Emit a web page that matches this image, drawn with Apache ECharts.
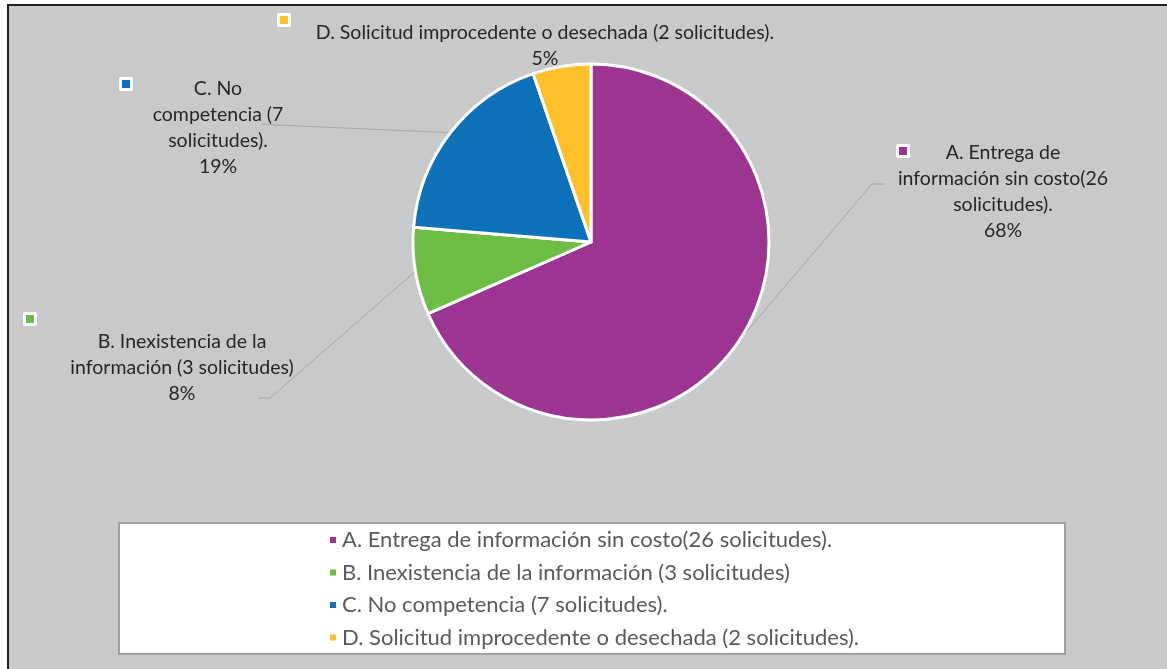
<!DOCTYPE html>
<html>
<head>
<meta charset="utf-8">
<script src="https://cdn.jsdelivr.net/npm/echarts@6/dist/echarts.min.js"></script>
<style>
html, body { margin: 0; padding: 0; background: #ffffff; }
#chart { width: 1167px; height: 669px; }
</style>
</head>
<body>
<div id="chart"></div>
<script>
const categories = [
  'A. Entrega de información sin costo(26 solicitudes).',
  'B. Inexistencia de la información (3 solicitudes)',
  'C. No competencia (7 solicitudes).',
  'D. Solicitud improcedente o desechada (2 solicitudes).'
];
const counts = [26, 3, 7, 2];
const percentLabels = ['68%', '8%', '19%', '5%'];
const labelTexts = [
  'A. Entrega de\ninformación sin costo(26\nsolicitudes).',
  'B. Inexistencia de la\ninformación (3 solicitudes)',
  'C. No\ncompetencia (7\nsolicitudes).',
  'D. Solicitud improcedente o desechada (2 solicitudes).'
];
const colors = ['#9c3591', '#6dbd45', '#0c71b9', '#fdbf2a'];

// where Excel put each data label, its legend key and the elbow of its leader line
const labelSpots = [
  { x: 1003, y: 140, key: [903, 151], line: [[872, 184], [885, 184]] },
  { x: 182, y: 329, key: [30, 319], line: [[270, 398], [258, 398]] },
  { x: 218, y: 76, key: [126, 84], line: [[276, 125], [262, 124]] },
  { x: 545, y: 20, key: [284, 20], line: null }
];
const fontFamily = 'Lato, "Open Sans", sans-serif';

const chart = echarts.init(document.getElementById('chart'), null, { renderer: 'canvas' });

const keyGraphics = labelSpots.flatMap((spot, i) => [
  {
    type: 'rect',
    shape: { x: spot.key[0] - 7, y: spot.key[1] - 7, width: 14, height: 14, r: 2 },
    style: { fill: '#ffffff' },
    z: 10
  },
  {
    type: 'rect',
    shape: { x: spot.key[0] - 4, y: spot.key[1] - 4, width: 8, height: 8 },
    style: { fill: colors[i] },
    z: 11
  }
]);

chart.setOption({
  animation: false,
  color: colors,
  graphic: [
    {
      type: 'rect',
      shape: { x: 8, y: 5, width: 1170, height: 680 },
      style: { fill: '#c8c9cb', stroke: '#1e1e1e', lineWidth: 2 },
      z: -10
    },
    {
      type: 'rect',
      shape: { x: 119, y: 523, width: 946, height: 131 },
      style: { fill: '#ffffff', stroke: '#a0a0a2', lineWidth: 2 },
      z: -5
    },
    ...keyGraphics
  ],
  legend: {
    orient: 'vertical',
    left: 323,
    top: 523,
    itemWidth: 8,
    itemHeight: 8,
    itemGap: 8.5,
    icon: 'rect',
    selectedMode: false,
    data: categories,
    textStyle: {
      color: '#595959',
      fontSize: 22,
      fontFamily: fontFamily,
      lineHeight: 24
    }
  },
  series: [{
    type: 'pie',
    center: [591, 242],
    radius: 178,
    startAngle: 90,
    clockwise: true,
    avoidLabelOverlap: false,
    emphasis: { disabled: true },
    itemStyle: { borderColor: '#ffffff', borderWidth: 3 },
    label: {
      show: true,
      position: 'outside',
      color: '#262626',
      fontSize: 19.5,
      fontFamily: fontFamily,
      lineHeight: 26,
      align: 'center',
      formatter: p => labelTexts[p.dataIndex] + '\n' + percentLabels[p.dataIndex]
    },
    labelLine: {
      show: true,
      length: 10,
      length2: 10,
      lineStyle: { color: '#a6a6a6', width: 1 }
    },
    labelLayout: params => {
      const spot = labelSpots[params.dataIndex];
      const out = { x: spot.x, y: spot.y, align: 'center', verticalAlign: 'top' };
      if (spot.line && params.labelLinePoints) {
        out.labelLinePoints = [params.labelLinePoints[0], ...spot.line];
      }
      return out;
    },
    data: categories.map((name, i) => ({
      name: name,
      value: counts[i],
      labelLine: { show: labelSpots[i].line !== null }
    }))
  }]
});
</script>
</body>
</html>
